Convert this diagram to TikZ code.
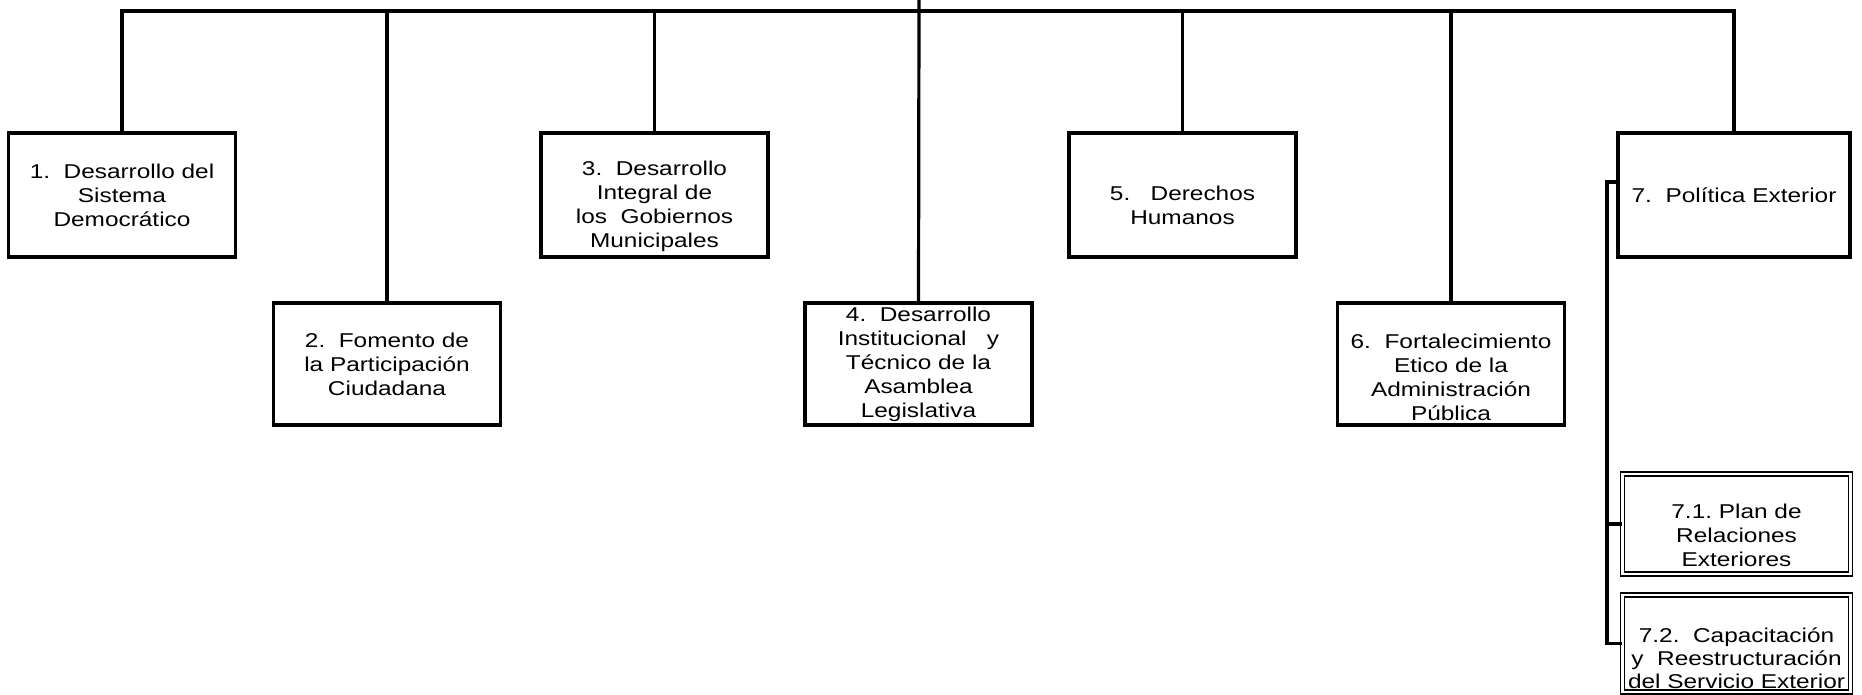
\documentclass[tikz,border=0pt]{standalone}
\usepackage{fontspec}
\setmainfont{Liberation Sans}[FakeStretch=1.22]
\begin{document}
\begin{tikzpicture}[x=1pt,y=-1pt,
  box/.style={draw=black, line width=3.3pt, inner sep=0pt, minimum width=227pt, minimum height=124pt},
  subbox/.style={draw=black, double=white, line width=1.4pt, double distance=2.4pt, inner sep=0pt, minimum width=228pt},
  lbl/.style={align=center, inner sep=0pt, font=\fontsize{20}{24}\selectfont},
  conn/.style={line width=3.2pt}]
\useasboundingbox (0,0) rectangle (1862,694);

% boxes
\node[box] (b1) at (122,195) {};
\node[box, minimum height=122pt] (b2) at (387,364) {};
\node[box] (b3) at (654.5,195) {};
\node[box, minimum height=122pt] (b4) at (918.5,364) {};
\node[box] (b5) at (1182.5,195) {};
\node[box, minimum height=122pt] (b6) at (1451,364) {};
\node[box, minimum width=232pt] (b7) at (1734,195) {};
\node[subbox, minimum height=100pt] (b71) at (1736.5,524) {};
\node[subbox, minimum height=97pt] (b72) at (1736.5,643.5) {};

% labels
\node[lbl] (t1) at (b1.center) {1.\ \ Desarrollo del\\Sistema\\Democrático};
\node[lbl] (t2) at (b2.center) {2.\ \ Fomento de\\la Participación\\Ciudadana};
\node[lbl, yshift=-11pt] (t3) at (b3.center) {3.\ \ Desarrollo\\Integral de\\los\ \ Gobiernos\\Municipales};
\node[lbl] (t4) at (b4.center) {4.\ \ Desarrollo\\Institucional\ \ \ y\\Técnico de la\\Asamblea\\Legislativa};
\node[lbl, yshift=-10pt] (t5) at (b5.center) {5.\ \ \ Derechos\\Humanos};
\node[lbl, yshift=-13pt] (t6) at (b6.center) {6.\ \ Fortalecimiento\\Etico de la\\Administración\\Pública};
\node[lbl] (t7) at (b7.center) {7.\ \ Política Exterior};
\node[lbl, yshift=-11pt] (t71) at (b71.center) {7.1.\ Plan de\\Relaciones\\Exteriores};
\node[lbl, yshift=-15pt, font=\fontsize{20}{23}\selectfont] (t72) at (b72.center) {7.2.\ \ Capacitación\\y\ \ Reestructuración\\del Servicio Exterior};

% top connectors
\coordinate (top) at (919,0);
\coordinate (bus) at (919,11);
\draw[conn] (b1.north) |- (bus) -| (b7.north);
\draw[conn] (top) -- (b4.north);
\foreach \n in {b2,b3,b5,b6} {\draw[conn] (\n.north) -- (\n.north |- bus);}

% bracket to sub-boxes
\coordinate (brk) at (1607,182);
\draw[conn] (b7.west |- brk) -- (brk) |- (b72.west);
\draw[conn] (brk |- b71.west) -- (b71.west);
\end{tikzpicture}
\end{document}
